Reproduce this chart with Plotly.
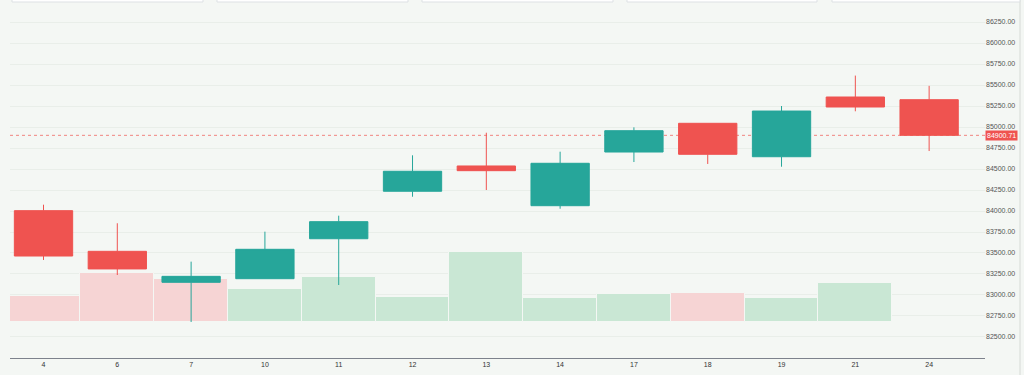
import plotly.graph_objects as go

# ---- data ----
dates = ["4", "6", "7", "10", "11", "12", "13", "14", "17", "18", "19", "21", "24"]
open_ = [84004, 83520, 83151, 83194, 83670, 84235, 84536, 84063, 84702, 85044, 84646, 85357, 85325]
high = [84075, 83854, 83397, 83754, 83944, 84663, 84932, 84706, 84996, 85044, 85250, 85612, 85490]
low = [83417, 83238, 82679, 83194, 83119, 84170, 84250, 84027, 84583, 84560, 84527, 85187, 84714]
close = [83464, 83310, 83222, 83544, 83873, 84473, 84480, 84568, 84956, 84675, 85190, 85238, 84900.71]
volume = [1310, 2470, 2170, 1660, 2280, 1270, 3530, 1230, 1420, 1470, 1220, 1970, 25]
last_price = 84900.71
price_ticks = [82500, 82750, 83000, 83250, 83500, 83750, 84000, 84250, 84500,
               84750, 85000, 85250, 85500, 85750, 86000, 86250]

# ---- style ----
UP = "#26a69a"
DOWN = "#ef5350"
VOL_UP = "#c9e7d4"
VOL_DOWN = "#f6d4d4"
BG = "#f4f7f4"
GRID = "#e9eee9"

vol_colors = []
for i in range(len(close)):
    prev = close[i - 1] if i > 0 else open_[i]
    vol_colors.append(VOL_UP if close[i] >= prev else VOL_DOWN)

fig = go.Figure()

fig.add_trace(go.Bar(
    x=dates, y=volume, marker=dict(color=vol_colors, line=dict(color=BG, width=1)),
    yaxis="y", showlegend=False, hoverinfo="skip",
))

fig.add_trace(go.Candlestick(
    x=dates, open=open_, high=high, low=low, close=close,
    increasing=dict(line=dict(color=UP, width=1), fillcolor=UP),
    decreasing=dict(line=dict(color=DOWN, width=1), fillcolor=DOWN),
    yaxis="y2", showlegend=False, whiskerwidth=0,
))

shapes = [
    dict(type="line", xref="paper", yref="y2", x0=0, x1=1, y0=last_price, y1=last_price,
         line=dict(color="rgba(239,83,80,0.7)", width=1, dash="dot"), layer="below"),
    dict(type="line", xref="paper", yref="paper", x0=1.0359, x1=1.0359, y0=-0.06, y1=1.03,
         line=dict(color="#d6dad6", width=1)),
]
for a, b in [(12, 203), (217, 408), (422, 613), (627, 817), (832, 1020)]:
    shapes.append(dict(type="rect", xref="paper", yref="paper",
                       x0=(a - 10) / 975, x1=(b - 10) / 975, y0=1.0171, y1=1.05,
                       fillcolor="white", line=dict(color="#dde1e4", width=1)))

fig.update_layout(
    width=1024, height=375,
    margin=dict(l=10, r=39, t=8, b=17),
    paper_bgcolor=BG, plot_bgcolor=BG,
    font=dict(family="Liberation Sans, Arial, sans-serif", size=7, color="#444"),
    boxgap=0.21, boxgroupgap=0, bargap=0,
    xaxis=dict(type="category", range=[-0.454, 12.757], rangeslider=dict(visible=False),
               showgrid=False, showline=True, linecolor="#7d828c", linewidth=1,
               ticks="", tickfont=dict(size=7, color="#333"), fixedrange=True),
    yaxis=dict(range=[-1785, 15715], showticklabels=False, showgrid=False,
               zeroline=False, fixedrange=True),
    yaxis2=dict(overlaying="y", side="right", range=[82249.9, 86416.7],
                tickvals=price_ticks, ticktext=[f"{v:.2f}" for v in price_ticks],
                showgrid=True, gridcolor=GRID, gridwidth=1, zeroline=False,
                ticks="", tickfont=dict(size=7, color="#555"), fixedrange=True),
    shapes=shapes,
    annotations=[dict(xref="paper", yref="y2", x=1, y=last_price, xanchor="left",
                      yanchor="middle", text=f"{last_price:.2f}", showarrow=False,
                      bgcolor=DOWN, font=dict(color="white", size=7), borderpad=1)],
    showlegend=False,
)

fig.write_html(
    "out.html",
    config={"displayModeBar": False},
    post_script="document.body.style.margin='0';document.body.style.overflow='hidden';",
)
